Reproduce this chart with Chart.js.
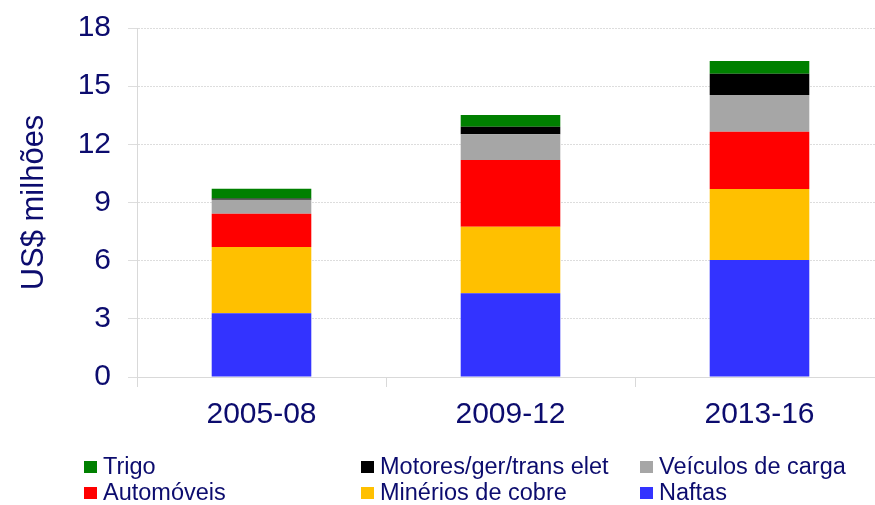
<!DOCTYPE html>
<html lang="pt">
<head>
<meta charset="utf-8">
<title>Exportações por produto</title>
<script src="https://cdn.jsdelivr.net/npm/chart.js@4/dist/chart.umd.min.js"></script>
<style>
  html, body { margin: 0; padding: 0; background: #ffffff; overflow: hidden; width: 875px; height: 505px; }
  #wrap { position: relative; width: 884px; height: 505px; }
</style>
</head>
<body>
<div id="wrap"><canvas id="chart"></canvas></div>
<script>
// Periods on the category axis
const periods = ['2005-08', '2009-12', '2013-16'];

// Values in US$ millions, bottom of each stack first
const naftas     = [3.29, 4.32, 6.03];
const minerios   = [3.41, 3.43, 3.67];
const automoveis = [1.72, 3.44, 2.95];
const veiculos   = [0.72, 1.33, 1.89];
const motores    = [0.07, 0.39, 1.10];
const trigo      = [0.50, 0.60, 0.66];

// Value axis ticks
const yTicks = [0, 3, 6, 9, 12, 15, 18];

const TEXT = '#0C0C6E';
const FONT = "'Liberation Sans', Arial, sans-serif";

const series = [
  { label: 'Naftas',               data: naftas,     color: '#3333FF' },
  { label: 'Minérios de cobre',    data: minerios,   color: '#FFC000' },
  { label: 'Automóveis',           data: automoveis, color: '#FF0000' },
  { label: 'Veículos de carga',    data: veiculos,   color: '#A6A6A6' },
  { label: 'Motores/ger/trans elet', data: motores,  color: '#000000' },
  { label: 'Trigo',                data: trigo,      color: '#008000' }
];

// Legend laid out in three columns, two rows (top series first)
const legendOrder = ['Trigo', 'Motores/ger/trans elet', 'Veículos de carga',
                     'Automóveis', 'Minérios de cobre', 'Naftas'];
const legendCols = [84, 361, 640];
const legendRows = [467, 493];

const gridLegend = {
  id: 'gridLegend',
  afterDraw(chart) {
    const ctx = chart.ctx;
    ctx.save();
    ctx.font = '23.5px ' + FONT;
    ctx.textBaseline = 'middle';
    ctx.textAlign = 'left';
    legendOrder.forEach((name, i) => {
      const ds = chart.data.datasets.find(d => d.label === name);
      const x = legendCols[i % 3];
      const y = legendRows[Math.floor(i / 3)];
      ctx.fillStyle = ds.backgroundColor;
      ctx.fillRect(x, y - 6, 13, 12);
      ctx.fillStyle = TEXT;
      ctx.fillText(name, x + 19, y + 1);
    });
    ctx.restore();
  }
};

new Chart(document.getElementById('chart'), {
  type: 'bar',
  data: {
    labels: periods,
    datasets: series.map(s => ({
      label: s.label,
      data: s.data,
      backgroundColor: s.color,
      borderWidth: 0,
      categoryPercentage: 1,
      barPercentage: 0.4
    }))
  },
  options: {
    responsive: true,
    maintainAspectRatio: false,
    animation: false,
    layout: { padding: { top: 28, bottom: 62, left: 16, right: 0 } },
    plugins: {
      legend: { display: false },
      tooltip: { enabled: false }
    },
    scales: {
      x: {
        stacked: true,
        grid: {
          drawOnChartArea: false,
          drawTicks: true,
          tickLength: 10,
          color: '#D9D9D9',
          offset: true
        },
        border: { display: true, color: '#D9D9D9', dash: [2, 1] },
        ticks: { color: TEXT, font: { family: FONT, size: 30 }, padding: 10 }
      },
      y: {
        stacked: true,
        min: 0,
        max: 18,
        afterBuildTicks(scale) { scale.ticks = yTicks.map(v => ({ value: v })); },
        afterFit(scale) {
          scale.width = 121;
          scale.paddingTop = 0;
          scale.paddingBottom = 0;
        },
        grid: {
          color: '#DDDDDD',
          tickLength: 9,
          drawTicks: true
        },
        border: { display: true, color: '#D9D9D9', dash: [2, 1] },
        ticks: { color: TEXT, font: { family: FONT, size: 30 }, padding: 17 },
        title: {
          display: true,
          text: 'US$ milhões',
          color: TEXT,
          font: { family: FONT, size: 31 },
          padding: { top: 0, bottom: 0 }
        }
      }
    }
  },
  plugins: [gridLegend]
});
</script>
</body>
</html>
